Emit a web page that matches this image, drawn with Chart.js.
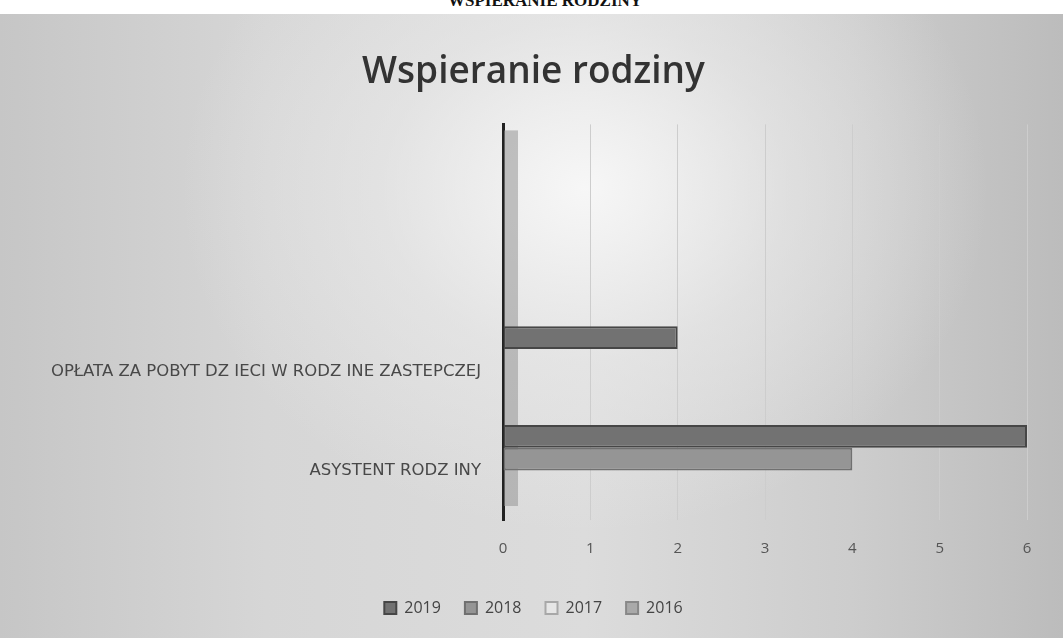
<!DOCTYPE html>
<html>
<head>
<meta charset="utf-8">
<script src="https://cdn.jsdelivr.net/npm/chart.js@4.4.1/dist/chart.umd.min.js"></script>
<style>
  html, body { margin: 0; padding: 0; width: 1063px; height: 638px; overflow: hidden; background: #ffffff; }
  #paper {
    position: absolute; left: 0; top: 14px; width: 1063px; height: 624px;
    background:
      radial-gradient(ellipse 38% 55% at 55% 28%, rgba(248,248,248,0.95) 0%, rgba(235,235,235,0.55) 50%, rgba(210,210,210,0) 100%),
      linear-gradient(90deg, #c6c6c6 0%, #d6d6d6 25%, #dcdcdc 55%, #cdcdcd 80%, #bcbcbc 100%);
  }
  #doc {
    position: absolute; left: 0; width: 1090px; top: -9px; text-align: center;
    font-family: "Liberation Serif", serif; font-weight: bold; font-size: 17px; color: #111;
  }
  #wrap { position: absolute; left: 0; top: 14px; width: 1063px; height: 624px; }
</style>
</head>
<body>
<div id="paper"></div>
<div id="doc">WSPIERANIE RODZINY</div>
<div id="wrap"><canvas id="c" width="1063" height="624"></canvas></div>
<script>
const chartTitle = "Wspieranie rodziny";
const categories = ["", "", "OPŁATA ZA POBYT DZ IECI W RODZ INE ZASTEPCZEJ", "ASYSTENT RODZ INY"];
const seriesNames = ["2019", "2018", "2017", "2016"];
const values2019 = [null, null, 2, 6];
const values2018 = [null, null, 0, 4];
const values2017 = [null, null, 0, 0];
const values2016 = [null, null, 0, 0];
const xTicks = [0, 1, 2, 3, 4, 5, 6];

const fills = ["#727272", "#959595", "#e6e6e6", "#a9a9a9"];
const borders = ["#464646", "#707070", "#a8a8a8", "#888888"];
const seriesValues = [values2019, values2018, values2017, values2016];

const datasets = seriesNames.map((n, i) => ({
  label: n,
  data: seriesValues[i],
  backgroundColor: fills[i],
  borderColor: borders[i],
  borderWidth: 2,
  borderSkipped: false,
  categoryPercentage: 0.92,
  barPercentage: 1.0
}));

const wallPlugin = {
  id: "wall",
  beforeDatasetsDraw(chart) {
    const { ctx, chartArea } = chart;
    ctx.save();
    ctx.fillStyle = "rgba(150,150,150,0.55)";
    ctx.fillRect(chartArea.left + 1, chartArea.top + 6, 14, chartArea.bottom - chartArea.top - 20);
    ctx.restore();
  }
};

new Chart(document.getElementById("c"), {
  type: "bar",
  data: { labels: categories, datasets },
  plugins: [wallPlugin],
  options: {
    indexAxis: "y",
    responsive: false,
    animation: false,
    layout: { padding: { left: 40, right: 36, top: 0, bottom: 12 } },
    plugins: {
      title: {
        display: true, text: chartTitle, color: "#333",
        font: { family: "Open Sans", size: 37, weight: "600" },
        padding: { top: 36, bottom: 30 }
      },
      legend: {
        position: "bottom",
        labels: {
          color: "#444", font: { family: "Open Sans", size: 16 },
          boxWidth: 12, boxHeight: 12, padding: 24
        }
      },
      tooltip: { enabled: false }
    },
    scales: {
      x: {
        type: "linear", min: 0, max: 6,
        afterBuildTicks: (s) => { s.ticks = xTicks.map(v => ({ value: v })); },
        afterFit: (s) => { s.height = 56; },
        grid: { color: "#cdcdcd", lineWidth: 1, drawTicks: false },
        border: { display: false },
        ticks: { color: "#555", font: { family: "Open Sans", size: 15 }, padding: 20 }
      },
      y: {
        afterFit: (s) => { s.width = 463; },
        grid: { display: false },
        border: { display: true, color: "#222", width: 3 },
        ticks: { color: "#484848", font: { family: "DejaVu Sans", size: 16.5 }, padding: 14, autoSkip: false }
      }
    }
  }
});
</script>
</body>
</html>
